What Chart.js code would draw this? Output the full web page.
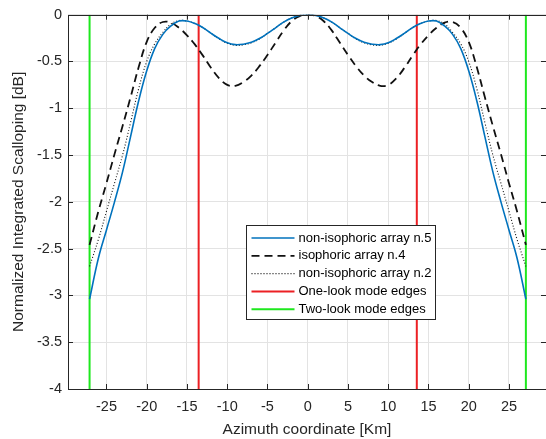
<!DOCTYPE html>
<html>
<head>
<meta charset="utf-8">
<script src="https://cdn.jsdelivr.net/npm/chart.js@4.4.1/dist/chart.umd.min.js"></script>
<style>
  html, body { margin: 0; padding: 0; background: #fff; }
</style>
</head>
<body>
<canvas id="scallopChart" width="546" height="439"></canvas>
<script>
// azimuth positions [km]
const azimuthKm = [-27.1,-26,-25,-24,-23,-22,-21,-20,-19,-18,-17,-16,-15,-14,-13,-12,-11,-10,-9,-8,-7,-6,-5,-4,-3,-2,-1,
  0,1,2,3,4,5,6,7,8,9,10,11,12,13,14,15,16,17,18,19,20,21,22,23,24,25,26,27.1];

// non-isophoric array n.5 (blue)
const nonIso5 = [-3.04,-2.6,-2.3,-2.0,-1.68,-1.3,-0.92,-0.6,-0.36,-0.21,-0.12,-0.068,-0.068,-0.095,-0.14,-0.2,-0.255,-0.3,-0.32,-0.315,-0.295,-0.255,-0.2,-0.14,-0.08,-0.035,-0.008,
  0,-0.008,-0.035,-0.08,-0.14,-0.2,-0.255,-0.295,-0.315,-0.32,-0.3,-0.255,-0.2,-0.14,-0.095,-0.068,-0.068,-0.12,-0.21,-0.36,-0.6,-0.92,-1.3,-1.68,-2.0,-2.3,-2.6,-3.04];

// isophoric array n.4 (dashed)
const iso4 = [-2.46,-2.1,-1.8,-1.49,-1.19,-0.88,-0.56,-0.29,-0.14,-0.078,-0.085,-0.14,-0.22,-0.32,-0.44,-0.57,-0.68,-0.75,-0.76,-0.72,-0.65,-0.55,-0.43,-0.3,-0.17,-0.07,-0.015,
  0,-0.015,-0.07,-0.17,-0.3,-0.43,-0.55,-0.65,-0.72,-0.76,-0.75,-0.68,-0.57,-0.44,-0.32,-0.22,-0.14,-0.085,-0.078,-0.14,-0.29,-0.56,-0.88,-1.19,-1.49,-1.8,-2.1,-2.46];

// non-isophoric array n.2 (dotted)
const nonIso2 = [-2.69,-2.4,-2.1,-1.8,-1.5,-1.15,-0.79,-0.5,-0.31,-0.19,-0.1,-0.062,-0.068,-0.095,-0.14,-0.2,-0.26,-0.305,-0.327,-0.322,-0.3,-0.26,-0.2,-0.14,-0.08,-0.035,-0.008,
  0,-0.008,-0.035,-0.08,-0.14,-0.2,-0.26,-0.3,-0.322,-0.327,-0.305,-0.26,-0.2,-0.14,-0.095,-0.068,-0.062,-0.1,-0.19,-0.31,-0.5,-0.79,-1.15,-1.5,-1.8,-2.1,-2.4,-2.69];

// mode edges [km]
const oneLookEdges = [-13.55, 13.55];
const twoLookEdges = [-27.1, 27.1];

const xTicks = [-25,-20,-15,-10,-5,0,5,10,15,20,25];
const yTicks = [-4,-3.5,-3,-2.5,-2,-1.5,-1,-0.5,0];
const yMin = -4, yMax = 0;

const font = '"Liberation Sans", Arial, Helvetica, sans-serif';
const axisColor = '#262626';

function pairs(xs, ys) {
  return xs.map((x, i) => ({ x: x, y: ys[i] }));
}
function edgeLines(xs) {
  const pts = [];
  xs.forEach((x, i) => {
    if (i > 0) pts.push({ x: x, y: null });
    pts.push({ x: x, y: yMax }, { x: x, y: yMin });
  });
  return pts;
}

// box + inward ticks like the original plot
const boxPlugin = {
  id: 'boxPlugin',
  afterDatasetsDraw(chart) {
    const { ctx, chartArea: a, scales } = chart;
    ctx.save();
    ctx.strokeStyle = axisColor;
    ctx.lineWidth = 1;
    ctx.beginPath();
    xTicks.forEach(v => {
      const px = Math.round(scales.x.getPixelForValue(v)) + 0.5;
      ctx.moveTo(px, a.bottom); ctx.lineTo(px, a.bottom - 5);
      ctx.moveTo(px, a.top); ctx.lineTo(px, a.top + 5);
    });
    yTicks.forEach(v => {
      const py = Math.round(scales.y.getPixelForValue(v)) + 0.5;
      ctx.moveTo(a.left, py); ctx.lineTo(a.left + 5, py);
      ctx.moveTo(a.right, py); ctx.lineTo(a.right - 5, py);
    });
    ctx.stroke();
    ctx.strokeRect(Math.round(a.left) + 0.5, Math.round(a.top) + 0.5,
      Math.round(a.right - a.left), Math.round(a.bottom - a.top));
    ctx.restore();
  }
};

// legend box inside the axes
const legendPlugin = {
  id: 'legendPlugin',
  afterDraw(chart) {
    const ctx = chart.ctx;
    const bx = 246.5, by = 225.5, bw = 189, bh = 94;
    ctx.save();
    ctx.fillStyle = '#fff';
    ctx.fillRect(bx, by, bw, bh);
    ctx.strokeStyle = axisColor;
    ctx.lineWidth = 1;
    ctx.strokeRect(bx, by, bw, bh);
    ctx.font = '13px ' + font;
    ctx.textBaseline = 'middle';
    chart.data.datasets.forEach((ds, i) => {
      const y = by + 12.5 + i * 17.8;
      ctx.strokeStyle = ds.borderColor;
      ctx.lineWidth = ds.borderWidth;
      ctx.setLineDash(ds.borderDash || []);
      ctx.beginPath();
      ctx.moveTo(bx + 5, y);
      ctx.lineTo(bx + 48, y);
      ctx.stroke();
      ctx.setLineDash([]);
      ctx.fillStyle = '#000';
      ctx.fillText(ds.label, bx + 52, y);
    });
    ctx.restore();
  }
};

const lineDefaults = { pointRadius: 0, fill: false, tension: 0.4, spanGaps: false };

new Chart(document.getElementById('scallopChart'), {
  type: 'line',
  data: {
    datasets: [
      Object.assign({ label: 'non-isophoric array n.5', data: pairs(azimuthKm, nonIso5),
        borderColor: '#0072BD', borderWidth: 1.6 }, lineDefaults),
      Object.assign({ label: 'isophoric array n.4', data: pairs(azimuthKm, iso4),
        borderColor: '#111', borderWidth: 1.8, borderDash: [8, 5] }, lineDefaults),
      Object.assign({ label: 'non-isophoric array n.2', data: pairs(azimuthKm, nonIso2),
        borderColor: '#111', borderWidth: 1.1, borderDash: [1, 2] }, lineDefaults),
      Object.assign({ label: 'One-look mode edges', data: edgeLines(oneLookEdges),
        borderColor: '#ec2024', borderWidth: 2 }, lineDefaults, { tension: 0 }),
      Object.assign({ label: 'Two-look mode edges', data: edgeLines(twoLookEdges),
        borderColor: '#1ee81e', borderWidth: 2 }, lineDefaults, { tension: 0 })
    ]
  },
  options: {
    responsive: false,
    animation: false,
    layout: { padding: { top: 12, right: 0, left: 0, bottom: 0 } },
    plugins: { legend: { display: false }, tooltip: { enabled: false } },
    scales: {
      x: {
        type: 'linear', min: -29.78, max: 29.6,
        afterBuildTicks: s => { s.ticks = xTicks.map(v => ({ value: v })); },
        afterFit: s => { s.height = 50; },
        grid: { color: '#e3e3e3', drawTicks: false },
        border: { display: false },
        ticks: { callback: v => String(v), color: axisColor, font: { family: font, size: 14.5 }, padding: 9, maxRotation: 0 },
        title: { display: true, text: 'Azimuth coordinate [Km]', color: axisColor, font: { family: font, size: 15.5 }, padding: { top: 0, bottom: 0 } }
      },
      y: {
        min: yMin, max: yMax,
        afterBuildTicks: s => { s.ticks = yTicks.map(v => ({ value: v })); },
        afterFit: s => { s.width = 68; },
        grid: { color: '#e3e3e3', drawTicks: false },
        border: { display: false },
        ticks: { callback: v => String(v), color: axisColor, font: { family: font, size: 14.5 }, padding: 6 },
        title: { display: true, text: 'Normalized Integrated Scalloping [dB]', color: axisColor, font: { family: font, size: 15.5 }, padding: { top: 9, bottom: 0 } }
      }
    }
  },
  plugins: [boxPlugin, legendPlugin]
});
</script>
</body>
</html>
